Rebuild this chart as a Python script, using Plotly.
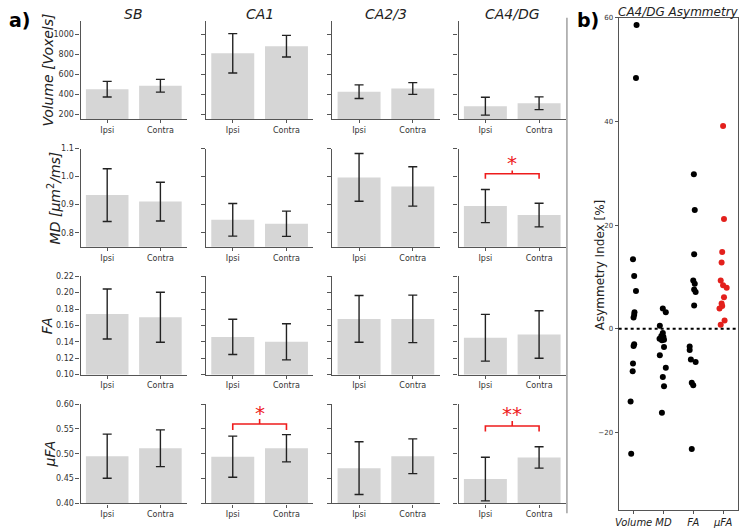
import plotly.graph_objects as go

W, H = 740, 530

# ---------------- data ----------------
regions = ["SB", "CA1", "CA2/3", "CA4/DG"]
groups = ["Ipsi", "Contra"]

vol_mean = [[450, 485], [812, 883], [425, 457], [279, 309]]
vol_sd = [[79, 64], [198, 109], [69, 59], [90, 64]]

md_mean = [[0.934, 0.911], [0.846, 0.832], [0.997, 0.965], [0.895, 0.863]]
md_sd = [[0.094, 0.069], [0.058, 0.045], [0.085, 0.070], [0.059, 0.042]]

fa_mean = [[0.174, 0.170], [0.146, 0.140], [0.168, 0.168], [0.145, 0.149]]
fa_sd = [[0.0305, 0.0305], [0.0215, 0.022], [0.0285, 0.029], [0.0285, 0.029]]

ufa_mean = [[0.495, 0.511], [0.494, 0.511], [0.471, 0.495], [0.449, 0.4925]]
ufa_sd = [[0.0445, 0.037], [0.0415, 0.0275], [0.053, 0.035], [0.044, 0.0215]]

# significance brackets: (row, col, bracket level, leg end, tip, star level, label)
brackets = [
    (1, 3, 1.010, 0.992, 1.022, 1.050, "*"),
    (3, 1, 0.560, 0.548, 0.570, 0.583, "*"),
    (3, 3, 0.556, 0.545, 0.566, 0.580, "**"),
]

# asymmetry index (%) for CA4/DG, with horizontal jitter (category units)
asym_labels = ["Volume", "MD", "FA", "µFA"]
asym_volume = [58.6, 48.4, 13.4, 10.2, 7.3, 3.2, 2.7, 2.2, -3.0, -3.3, -6.7, -8.2, -14.0, -24.1]
jit_volume = [0.10, 0.08, -0.02, 0.02, 0.08, 0.03, 0.02, 0.0, 0.02, 0.0, -0.02, -0.03, -0.10, -0.08]
asym_md = [3.9, 3.2, 0.6, -0.8, -1.4, -1.6, -1.9, -2.2, -2.1, -3.5, -5.1, -7.5, -9.3, -11.1, -16.2]
jit_md = [-0.02, 0.08, -0.12, -0.02, -0.07, 0.0, -0.13, -0.05, 0.02, 0.02, -0.12, 0.08, -0.02, 0.02, -0.05]
asym_fa = [29.8, 22.9, 14.4, 9.3, 8.7, 7.6, 7.1, 4.5, -3.4, -4.1, -5.9, -6.4, -10.4, -10.9, -23.2]
jit_fa = [0.02, 0.05, 0.03, 0.0, 0.05, 0.03, 0.08, 0.03, -0.12, -0.12, -0.08, 0.08, -0.05, 0.0, -0.05]
asym_ufa = [39.1, 21.2, 14.8, 12.8, 9.3, 8.4, 7.9, 6.1, 4.9, 4.4, 3.9, 1.6, 0.8]
jit_ufa = [0.0, 0.03, -0.03, -0.05, -0.08, 0.0, 0.12, 0.03, -0.05, -0.03, -0.12, 0.05, -0.08]

rows = [
    dict(mean=vol_mean, sd=vol_sd, rng=[150, 1140], ticks=[200, 400, 600, 800, 1000], fmt="d",
         title="<i>Volume [Voxels]</i>", tx=44),
    dict(mean=md_mean, sd=md_sd, rng=[0.75, 1.1], ticks=[0.8, 0.9, 1.0, 1.1], fmt=".1f",
         title="<i>MD [µm</i><sup>2</sup><i>/ms]</i>", tx=50),
    dict(mean=fa_mean, sd=fa_sd, rng=[0.10, 0.22], ticks=[0.10, 0.12, 0.14, 0.16, 0.18, 0.20, 0.22], fmt=".2f",
         title="<i>FA</i>", tx=44),
    dict(mean=ufa_mean, sd=ufa_sd, rng=[0.40, 0.60], ticks=[0.40, 0.45, 0.50, 0.55, 0.60], fmt=".2f",
         title="<i>µFA</i>", tx=46),
]

# ---------------- layout helpers ----------------
col_px = [(77, 184), (203, 311), (330, 438), (457, 565)]
row_px = [(17, 117), (147, 247), (277, 377), (407, 508)]


def px_x(p):
    return p / W


def px_y(p):
    return 1 - p / H


FONT = "DejaVu Sans"
AX = "#555555"
TXT = "#333333"
BAR = "#d6d6d6"
RED = "#ee1c1c"

fig = go.Figure()
layout = dict(
    width=W, height=H, margin=dict(l=0, r=0, t=0, b=0),
    paper_bgcolor="white", plot_bgcolor="white", showlegend=False,
    font=dict(family=FONT, color=TXT),
)
annotations = []
shapes = []

for r, spec in enumerate(rows):
    for c in range(4):
        k = r * 4 + c + 1
        xa = "xaxis" if k == 1 else f"xaxis{k}"
        ya = "yaxis" if k == 1 else f"yaxis{k}"
        xr = "x" if k == 1 else f"x{k}"
        yr = "y" if k == 1 else f"y{k}"
        fig.add_trace(go.Bar(
            x=[0, 1], y=spec["mean"][c], width=0.8, marker=dict(color=BAR, line=dict(width=0)),
            error_y=dict(type="data", array=spec["sd"][c], color="#222222", thickness=1.4, width=4.5),
            xaxis=xr, yaxis=yr, hoverinfo="skip",
        ))
        layout[xa] = dict(
            domain=[px_x(col_px[c][0]), px_x(col_px[c][1])], anchor=yr,
            range=[-0.5, 1.5], tickvals=[0, 1], ticktext=groups,
            showline=True, linecolor=AX, linewidth=1.3, ticks="outside", ticklen=3,
            tickcolor=AX, tickwidth=1, showgrid=False, zeroline=False,
            tickfont=dict(size=8, color=TXT, family=FONT),
        )
        layout[ya] = dict(
            domain=[px_y(row_px[r][1]), px_y(row_px[r][0])], anchor=xr,
            range=spec["rng"], tickvals=spec["ticks"], tickformat=spec["fmt"],
            showticklabels=(c == 0),
            showline=True, linecolor=AX, linewidth=1.3, ticks="outside", ticklen=4,
            tickcolor=AX, tickwidth=1, showgrid=False, zeroline=False,
            tickfont=dict(size=8, color=TXT, family=FONT),
        )
    annotations.append(dict(
        text=spec["title"], xref="paper", yref="paper",
        x=px_x(spec["tx"]), y=px_y((row_px[r][0] + row_px[r][1]) / 2),
        textangle=-90, showarrow=False, xanchor="center", yanchor="middle",
        font=dict(size=14, color="#222222", family=FONT),
    ))

for c, name in enumerate(regions):
    annotations.append(dict(
        text=f"<i>{name}</i>", xref="paper", yref="paper",
        x=px_x((col_px[c][0] + col_px[c][1]) / 2), y=px_y(10),
        showarrow=False, xanchor="center", yanchor="middle",
        font=dict(size=14, color="#222222", family=FONT),
    ))

# significance brackets
for (r, c, lev, leg, tip, sy, lab) in brackets:
    k = r * 4 + c + 1
    xr = f"x{k}"
    yr = f"y{k}"
    fig.add_trace(go.Scatter(
        x=[0, 0, 0.5, 0.5, 0.5, 1, 1], y=[leg, lev, lev, tip, lev, lev, leg],
        mode="lines", line=dict(color=RED, width=1.6), xaxis=xr, yaxis=yr, hoverinfo="skip",
    ))
    annotations.append(dict(
        text=lab, xref=xr, yref=yr, x=0.5, y=sy, showarrow=False,
        xanchor="center", yanchor="middle",
        font=dict(size=20, color=RED, family=FONT),
    ))

# ---------------- right panel ----------------
series = [(asym_volume, jit_volume, "black"), (asym_md, jit_md, "black"),
          (asym_fa, jit_fa, "black"), (asym_ufa, jit_ufa, "#e3201c")]
for i, (vals, jit, col) in enumerate(series):
    fig.add_trace(go.Scatter(
        x=[i + j for j in jit], y=vals, mode="markers",
        marker=dict(color=col, size=6, line=dict(width=0)),
        xaxis="x17", yaxis="y17", hoverinfo="skip",
    ))

layout["xaxis17"] = dict(
    domain=[px_x(618), px_x(738)], anchor="y17", range=[-0.5, 3.5],
    tickvals=[0, 1, 2, 3], ticktext=[f"<i>{t}</i>" for t in asym_labels],
    showline=True, mirror=True, linecolor=AX, linewidth=1.3, ticks="outside", ticklen=3,
    tickcolor=AX, showgrid=False, zeroline=False,
    tickfont=dict(size=10, color="#222222", family=FONT),
)
layout["yaxis17"] = dict(
    domain=[px_y(515), px_y(14)], anchor="x17", range=[-35, 60],
    tickvals=[-20, 0, 20, 40, 60],
    showline=True, mirror=True, linecolor=AX, linewidth=1.3, ticks="outside", ticklen=3,
    tickcolor=AX, showgrid=False, zeroline=False,
    tickfont=dict(size=7, color=TXT, family=FONT),
)
shapes.append(dict(type="line", xref="x17 domain", yref="y17", x0=0, x1=1, y0=0, y1=0,
                   line=dict(color="black", width=2, dash="dot")))

annotations.append(dict(
    text="Asymmetry Index [%]", xref="paper", yref="paper", x=px_x(599), y=px_y(265),
    textangle=-90, showarrow=False, xanchor="center", yanchor="middle",
    font=dict(size=12, color="#222222", family=FONT),
))
annotations.append(dict(
    text="<i>CA4/DG Asymmetry</i>", xref="paper", yref="paper", x=px_x(678), y=px_y(8),
    showarrow=False, xanchor="center", yanchor="middle",
    font=dict(size=12, color="#222222", family=FONT),
))

# panel letters
annotations.append(dict(text="<b>a)</b>", xref="paper", yref="paper", x=px_x(3), y=px_y(16),
                        showarrow=False, xanchor="left", yanchor="middle",
                        font=dict(size=19, color="black", family=FONT)))
annotations.append(dict(text="<b>b)</b>", xref="paper", yref="paper", x=px_x(574), y=px_y(16),
                        showarrow=False, xanchor="left", yanchor="middle",
                        font=dict(size=19, color="black", family=FONT)))

# separator line between panels
shapes.append(dict(type="line", xref="paper", yref="paper", x0=px_x(566), x1=px_x(566),
                   y0=px_y(14), y1=px_y(518), line=dict(color="#888888", width=1.2)))

layout["annotations"] = annotations
layout["shapes"] = shapes
fig.update_layout(**layout)
fig.write_html("out.html")
